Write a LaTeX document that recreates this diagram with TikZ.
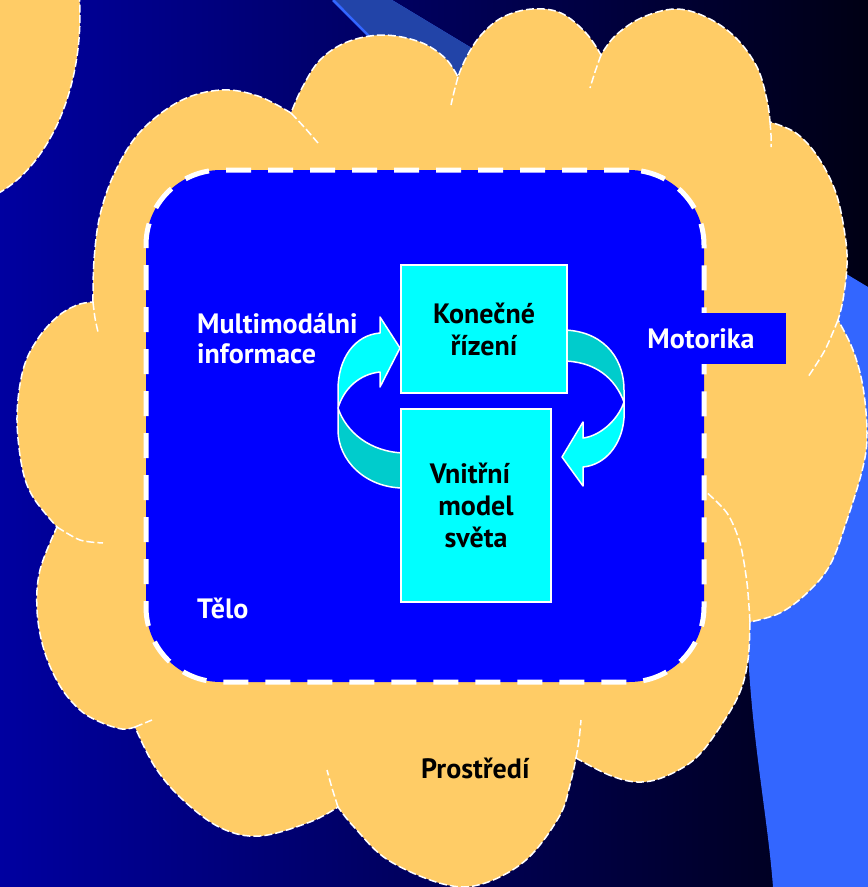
\documentclass[tikz,border=0pt]{standalone}
\usepackage{fontspec}
\setmainfont{PT Sans}
\definecolor{bgleft}{HTML}{0000A0}
\definecolor{bgright}{HTML}{000014}
\definecolor{skyband}{HTML}{3366FF}
\definecolor{bandtop}{HTML}{2244A8}
\definecolor{sand}{HTML}{FFCC66}
\definecolor{bodyblue}{HTML}{0000FF}
\definecolor{boxcyan}{HTML}{00FFFF}
\definecolor{backteal}{HTML}{00CCCC}
\begin{document}
\begin{tikzpicture}[x=1pt,y=-1pt,
  cloudline/.style={draw=white, line width=1.5, dash pattern=on 8 off 3},
  ribbon/.style={draw=white, line width=1.5, line join=round},
  lbl/.style={inner sep=0, font=\fontsize{28}{32}\selectfont\bfseries},
  cbox/.style={lbl, fill=boxcyan, draw=white, line width=2, align=center, text=black}]
\useasboundingbox (0,0) rectangle (868,887);
% background
\shade[left color=bgleft, right color=bgright] (0,0) rectangle (868,887);

% big light-blue sweep behind the cloud
\fill[skyband] (333,0) .. controls (533,200) and (745,430) .. (748,650)
  .. controls (752,740) and (768,820) .. (773,887) -- (868,887) -- (868,287) -- (392,0) -- cycle;
\begin{scope}
  \clip (0,0) rectangle (868,150);
  \fill[bandtop] (333,0) .. controls (533,200) and (745,430) .. (748,650)
    -- (868,650) -- (868,287) -- (392,0) -- cycle;
  \draw[skyband, line width=2.5] (333,0) .. controls (533,200) and (745,430) .. (748,650);
\end{scope}

% corner blob, top left
\draw[cloudline, fill=sand] (-45,15) ellipse [x radius=125, y radius=190];

% the environment cloud
\path[cloudline, fill=sand]
  plot[smooth, tension=0.6] coordinates {(93,302) (94,260) (100,215) (115,172) (140,132) (180,101) (221,90) (258,96) (291,113)}
  -- plot[smooth, tension=0.6] coordinates {(291,113) (302,88) (320,60) (347,42) (383,35) (420,42) (445,58) (458,77)}
  -- plot[smooth, tension=0.6] coordinates {(458,77) (466,58) (481,35) (503,17) (532,9) (561,13) (586,33) (601,55)}
  -- plot[smooth, tension=0.6] coordinates {(601,55) (615,36) (641,18) (675,9) (706,17) (735,37) (757,67) (767,100) (770,122)}
  -- plot[smooth, tension=0.6] coordinates {(770,122) (796,133) (818,157) (836,193) (845,235) (847,265) (843,300) (838,320)}
  -- plot[smooth, tension=0.6] coordinates {(838,320) (853,350) (863,387) (867,433) (863,467) (847,520) (830,565) (807,593) (780,613) (750,622)}
  -- plot[smooth, tension=0.6] coordinates {(750,622) (748,660) (740,692) (722,724) (696,758) (664,777) (637,782) (609,775) (576,758)}
  -- plot[smooth, tension=0.6] coordinates {(576,758) (570,785) (559,817) (526,860) (482,884) (443,884) (388,860) (354,827) (338,807)}
  -- plot[smooth, tension=0.6] coordinates {(338,807) (310,822) (260,836) (221,828) (183,800) (155,767) (135,727)}
  -- plot[smooth, tension=0.6] coordinates {(135,727) (122,729) (100,722) (80,710) (60,686) (44,650) (37,610) (40,570) (57,527)}
  -- plot[smooth, tension=0.6] coordinates {(57,527) (33,497) (22,467) (17,417) (23,370) (37,340) (57,317) (77,305) (93,302)}
  -- cycle;
% short inner arcs where the puffs meet
\draw[cloudline] plot[smooth] coordinates {(291,113) (305,128) (318,143)};
\draw[cloudline] plot[smooth] coordinates {(458,77) (454,92) (451,105)};
\draw[cloudline] plot[smooth] coordinates {(601,55) (595,72) (590,88)};
\draw[cloudline] plot[smooth] coordinates {(770,122) (771,135) (771,147)};
\draw[cloudline] plot[smooth] coordinates {(838,320) (825,350) (808,377)};
\draw[cloudline] plot[smooth] coordinates {(750,622) (747,583) (740,543) (727,513) (704,490)};
\draw[cloudline] plot[smooth] coordinates {(576,758) (579,740) (581,720)};
\draw[cloudline] plot[smooth] coordinates {(338,807) (332,788) (327,770)};
\draw[cloudline] plot[smooth] coordinates {(135,727) (152,720)};
\draw[cloudline] plot[smooth] coordinates {(57,527) (80,540) (103,543)};
\draw[cloudline] plot[smooth] coordinates {(93,302) (95,318) (98,332)};

% the body
\node (telo) [draw=white, line width=5, dash pattern=on 25 off 17, fill=bodyblue,
  rounded corners=75, minimum width=558, minimum height=512, inner sep=0] at (425,426) {};
\node (motorika) [lbl, fill=bodyblue, text=white, minimum width=170, minimum height=51] at (701,338.5) {Motorika};

% circular arrows
\draw[ribbon, fill=backteal] (338,408) .. controls (346,432) and (370,452) .. (404,453)
  -- (404,488) .. controls (365,488) and (338,460) .. (338,430) -- cycle;
\draw[ribbon, fill=boxcyan] (338,408) -- (338,390) .. controls (338,358) and (355,335) .. (380,333)
  -- (380,317) -- (400,348) -- (380,387) -- (380,372) .. controls (360,374) and (344,388) .. (338,408) -- cycle;
\draw[ribbon, fill=backteal] (562,330) .. controls (600,330) and (624,355) .. (624,390)
  -- (624,402) .. controls (615,378) and (595,361) .. (562,361) -- cycle;
\draw[ribbon, fill=boxcyan] (624,402) -- (624,418) .. controls (622,445) and (605,465) .. (583,467)
  -- (583,486) -- (562,457) -- (583,422) -- (583,438) .. controls (600,436) and (618,420) .. (624,402) -- cycle;

% control boxes
\node (konecne) [cbox, minimum width=166, minimum height=128] at (484,329) {Konečné\\řízení};
\node (model) [cbox, minimum width=150, minimum height=193] at (476,505.5) {Vnitřní\hspace*{12pt}\\model\hspace*{12pt}\\světa};

% labels
\node (multi) [lbl, text=white, anchor=base west] at (197,333) {Multimodálni};
\node (inform) [lbl, text=white, anchor=base west] at (197,363) {informace};
\node (telolbl) [lbl, text=white, anchor=base west] at (197,618) {Tělo};
\node (prostredi) [lbl, text=black, anchor=base west] at (421,778) {Prostředí};
\end{tikzpicture}
\end{document}
